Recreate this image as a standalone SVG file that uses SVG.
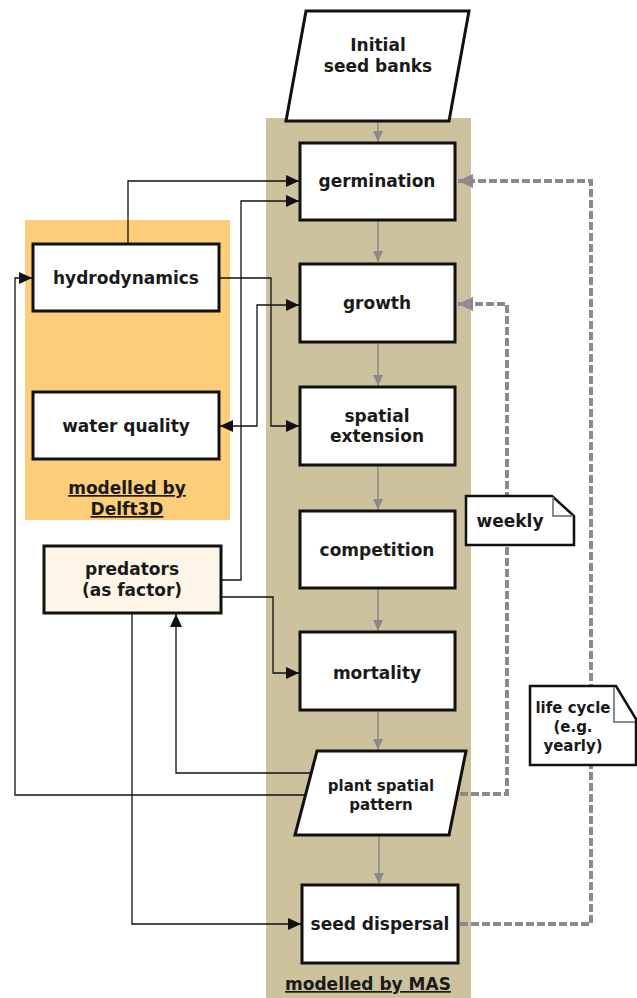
<svg xmlns="http://www.w3.org/2000/svg" width="637" height="998" viewBox="0 0 637 998">
<style>
  .box{fill:#fff;stroke:#111;stroke-width:3}
  .t{font-family:"DejaVu Sans",Verdana,sans-serif;font-weight:bold;font-size:17px;fill:#1a1a1a;text-anchor:middle}
  .s{font-size:15px}
  .u{text-decoration:underline}
  .bl{fill:none;stroke:#111;stroke-width:1.3}
  .gl{fill:none;stroke:#8a8a8a;stroke-width:1.5}
  .dl{fill:none;stroke:#8e898e;stroke-width:4;stroke-dasharray:8 3}
</style>
<defs>
  <marker id="ab" markerUnits="userSpaceOnUse" markerWidth="14" markerHeight="14" viewBox="0 0 14 14" refX="13" refY="7" orient="auto-start-reverse">
    <path d="M0,1 L13,7 L0,13 Z" fill="#111"/>
  </marker>
  <marker id="ag" markerUnits="userSpaceOnUse" markerWidth="12" markerHeight="12" viewBox="0 0 12 12" refX="11" refY="6" orient="auto">
    <path d="M0,1 L11,6 L0,11 Z" fill="#8a8a8a"/>
  </marker>
  <marker id="ad" markerUnits="userSpaceOnUse" markerWidth="16" markerHeight="16" viewBox="0 0 16 16" refX="15" refY="8" orient="auto">
    <path d="M0,1 L15,8 L0,15 Z" fill="#8e898e"/>
  </marker>
</defs>
<rect width="637" height="998" fill="#fff"/>
<!-- backgrounds -->
<g id="mas-region">
  <rect x="266" y="118" width="205" height="880" fill="#cdc29e"/>
  <text class="t u" x="368" y="990">modelled by MAS</text>
</g>
<g id="delft-region">
  <rect x="25" y="220" width="205" height="300" fill="#fdcd7a"/>
  <text class="t u" x="127" y="494">modelled by</text>
  <text class="t u" x="127" y="515">Delft3D</text>
</g>
<!-- connectors -->
<g id="connectors">
  <path class="gl" d="M378,121 V142" marker-end="url(#ag)"/>
  <path class="gl" d="M378,220 V262" marker-end="url(#ag)"/>
  <path class="gl" d="M378,342 V386" marker-end="url(#ag)"/>
  <path class="gl" d="M378,465 V510" marker-end="url(#ag)"/>
  <path class="gl" d="M378,588 V631" marker-end="url(#ag)"/>
  <path class="gl" d="M378,710 V750" marker-end="url(#ag)"/>
  <path class="gl" d="M379,835 V884" marker-end="url(#ag)"/>
  <path class="bl" d="M128,244 V181 H299" marker-end="url(#ab)"/>
  <path class="bl" d="M221,580 H241 V201 H299" marker-end="url(#ab)"/>
  <path class="bl" d="M219,278 H271 V426 H299" marker-end="url(#ab)"/>
  <path class="bl" d="M220,426 H257 V305 H299" marker-start="url(#ab)" marker-end="url(#ab)"/>
  <path class="bl" d="M221,597 H273 V673 H299" marker-end="url(#ab)"/>
  <path class="bl" d="M132,613 V924 H301" marker-end="url(#ab)"/>
  <path class="bl" d="M311,773 H176 V614" marker-end="url(#ab)"/>
  <path class="bl" d="M306,795 H15 V278 H32" marker-end="url(#ab)"/>
  <path class="dl" d="M460,794 H507 V304 H458" marker-end="url(#ad)"/>
  <path class="dl" d="M460,924 H591 V181 H458" marker-end="url(#ad)"/>
</g>
<!-- nodes -->
<g id="initial-seed-banks">
  <path class="box" d="M306,11 H469 L449,121 H286 Z" stroke-width="2.5"/>
  <text class="t" x="378" y="51">Initial</text>
  <text class="t" x="378" y="72">seed banks</text>
</g>
<g id="germination">
  <rect class="box" x="300" y="143" width="155" height="77"/>
  <text class="t" x="377" y="187">germination</text>
</g>
<g id="growth">
  <rect class="box" x="300" y="264" width="155" height="78"/>
  <text class="t" x="377" y="309">growth</text>
</g>
<g id="spatial-extension">
  <rect class="box" x="300" y="387" width="155" height="78"/>
  <text class="t" x="377" y="422">spatial</text>
  <text class="t" x="377" y="442">extension</text>
</g>
<g id="competition">
  <rect class="box" x="300" y="511" width="155" height="77"/>
  <text class="t" x="377" y="556">competition</text>
</g>
<g id="mortality">
  <rect class="box" x="300" y="632" width="155" height="78"/>
  <text class="t" x="377" y="679">mortality</text>
</g>
<g id="plant-spatial-pattern">
  <path class="box" d="M317,751 H466 L449,835 H295 Z" stroke-width="2.5"/>
  <text class="t s" x="381" y="791">plant spatial</text>
  <text class="t s" x="381" y="810">pattern</text>
</g>
<g id="seed-dispersal">
  <rect class="box" x="302" y="885" width="156" height="78"/>
  <text class="t" x="380" y="930">seed dispersal</text>
</g>
<g id="hydrodynamics">
  <rect class="box" x="33" y="244" width="186" height="67"/>
  <text class="t" x="126" y="284">hydrodynamics</text>
</g>
<g id="water-quality">
  <rect class="box" x="33" y="392" width="186" height="67"/>
  <text class="t" x="126" y="432">water quality</text>
</g>
<g id="predators">
  <rect class="box" x="44" y="546" width="177" height="67" style="fill:#fdf6e8"/>
  <text class="t" x="132" y="575">predators</text>
  <text class="t" x="132" y="596">(as factor)</text>
</g>
<g id="weekly-note">
  <path d="M466,496 H552 L574,516 V545 H466 Z" fill="#fff" stroke="#111" stroke-width="2.5"/>
  <path d="M553,497 V516 H573" fill="none" stroke="#8e898e" stroke-width="2"/>
  <text class="t" x="510" y="527">weekly</text>
</g>
<g id="life-cycle-note">
  <path d="M530,686 H616 L636,719 V765 H530 Z" fill="#fff" stroke="#111" stroke-width="2.5"/>
  <path d="M614,687 V722 H635" fill="none" stroke="#8e898e" stroke-width="2"/>
  <text class="t s" x="573" y="713">life cycle</text>
  <text class="t s" x="573" y="732">(e.g.</text>
  <text class="t s" x="573" y="751">yearly)</text>
</g>
</svg>
